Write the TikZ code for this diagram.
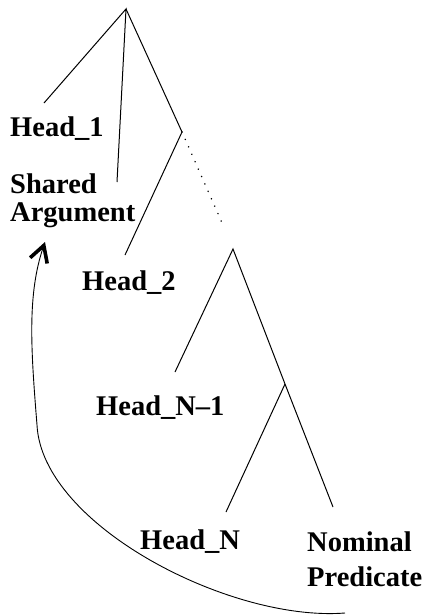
\documentclass[tikz,border=0pt]{standalone}
\usepackage{fontspec}
\setmainfont{Liberation Serif}
\usetikzlibrary{arrows.meta}
\begin{document}
\begin{tikzpicture}[x=1pt,y=-1pt,
  lbl/.style={font=\fontsize{28.5}{28}\selectfont\bfseries, inner sep=0pt, anchor=base west, align=left},
  branch/.style={line width=1pt},
  dots/.style={line width=1.6pt, line cap=round, dash pattern=on 0.1pt off 8pt},
  link/.style={line width=0.9pt, -{Straight Barb[length=16pt,width=18pt,line width=3.6pt]}}]
\useasboundingbox (0,0) rectangle (425,616);
% internal tree nodes
\coordinate (root) at (126,9);
\coordinate (a) at (182,132);
\coordinate (b) at (233,249);
\coordinate (c) at (285,384);
\coordinate (aend) at (223,225);
% leaf labels
\node[lbl] (h1) at (10,136) {Head\_1};
\node[lbl] (sa) at (10,221) {Shared\\Argument};
\node[lbl] (h2) at (82,290) {Head\_2};
\node[lbl] (hn1) at (96,415) {Head\_N--1};
\node[lbl] (hn) at (140,549) {Head\_N};
\node[lbl, font=\fontsize{28.5}{35}\selectfont\bfseries] (np) at (307,586) {Nominal\\Predicate};
% attachment points
\coordinate (h1t) at (44,103);
\coordinate (sat) at (117,182);
\coordinate (h2t) at (125,255);
\coordinate (hn1t) at (175,372);
\coordinate (hnt) at (226,512);
\coordinate (npt) at (333,507);
\coordinate (arcstart) at (345,613);
\coordinate (arcmid) at (37,425);
\coordinate (arcend) at (45,242);
% branches
\draw[branch] (h1t) -- (root) -- (sat);
\draw[branch] (root) -- (a) -- (h2t);
\draw[dots] (a) -- (aend);
\draw[branch] (hn1t) -- (b) -- (c) -- (npt);
\draw[branch] (c) -- (hnt);
% curved arrow
\draw[link] (arcstart) .. controls (230,622) and (42,525) .. (arcmid) .. controls (31,350) and (27,295) .. (arcend);
\end{tikzpicture}
\end{document}
